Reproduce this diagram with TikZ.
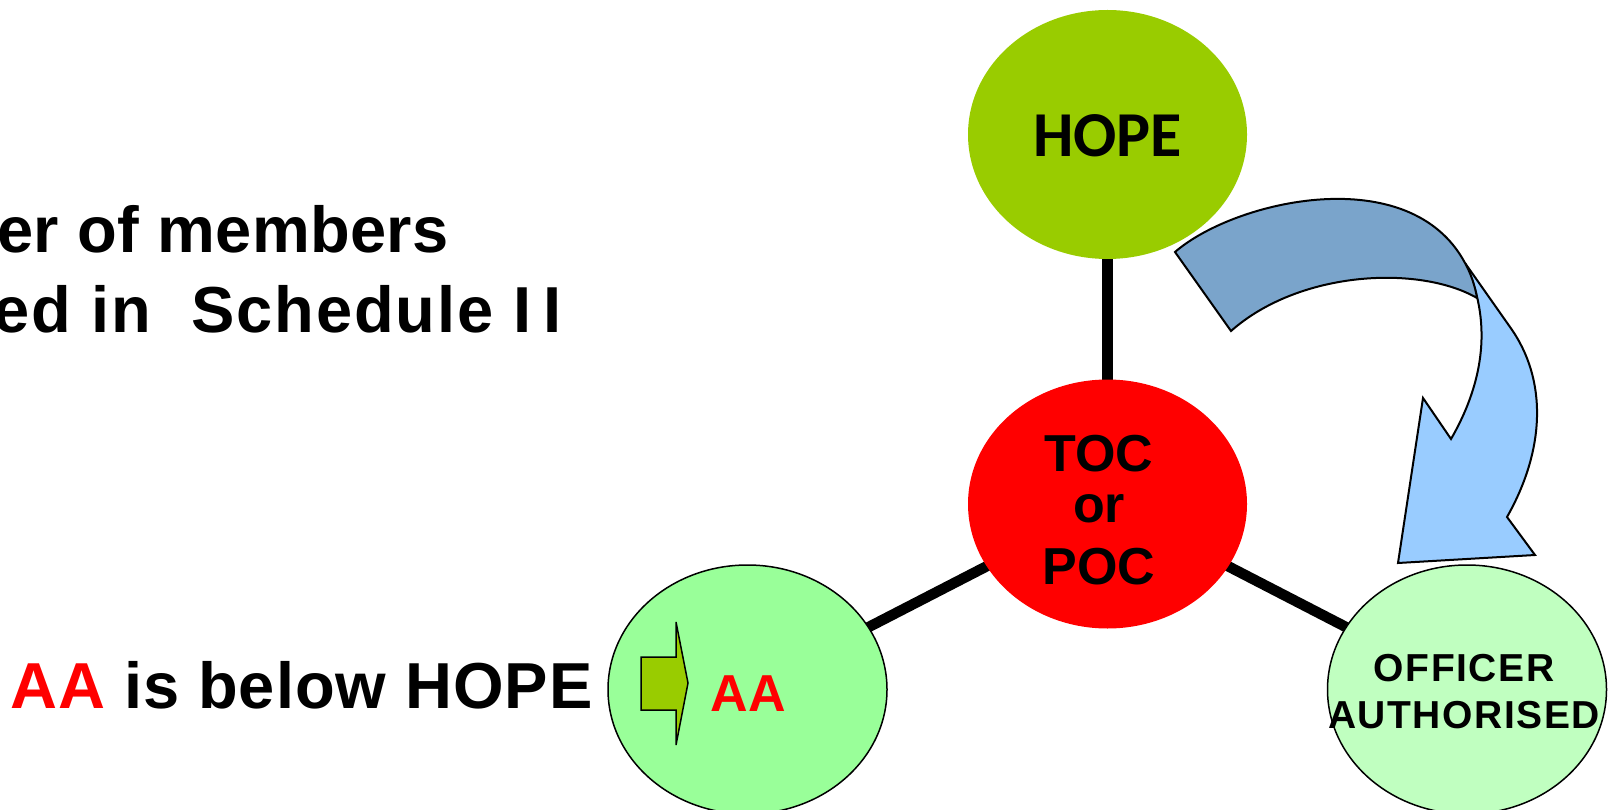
\documentclass[tikz,border=0pt]{standalone}
\usepackage{fontspec}
\setmainfont{Liberation Sans}
\newfontfamily\calfont{Carlito}
\usetikzlibrary{shapes.geometric,backgrounds}
\definecolor{hopegreen}{HTML}{99CC00}
\definecolor{tocred}{HTML}{FF0000}
\definecolor{aagreen}{HTML}{99FF99}
\definecolor{offgreen}{HTML}{C0FFC0}
\definecolor{arrowdark}{HTML}{7AA4CB}
\definecolor{arrowlight}{HTML}{99CCFF}
\begin{document}
\begin{tikzpicture}[x=1pt,y=-1pt,
  bubble/.style={ellipse, inner sep=0pt, minimum width=279pt, minimum height=249pt},
  conn/.style={line width=10.5pt, black},
  bigtext/.style={inner sep=0pt, font=\bfseries\fontsize{65}{78}\selectfont\addfontfeature{LetterSpace=#1}},
  arrowpart/.style={draw=black, line width=2pt, line join=miter},
  smallarrow/.style={draw=black, line width=1.5pt, fill=hopegreen, line join=miter}]
\useasboundingbox (0,0) rectangle (1614,810);

% ellipses
\node[bubble, fill=hopegreen] (hope) at (1107.5,134.5) {};
\node[bubble, fill=tocred] (toc) at (1107.5,504) {};
\node[bubble, fill=aagreen, draw=black, line width=1.5pt] (aa) at (747.5,689.5) {};
\node[bubble, fill=offgreen, draw=black, line width=1.5pt] (off) at (1467,689.5) {};

% connectors behind
\begin{pgfonlayer}{background}
\draw[conn] (hope.center) -- (toc.center);
\draw[conn] (toc.center) -- (aa.center);
\draw[conn] (toc.center) -- (off.center);
\end{pgfonlayer}

% curved arrow: light (front) part
\draw[arrowpart, fill=arrowlight]
  (1465,263) -- (1510,327) .. controls (1548,380) and (1545,450) .. (1507,517)
  -- (1535,555) -- (1398,563) -- (1423,398) -- (1451,439)
  .. controls (1485,380) and (1492,320) .. (1465,263) -- cycle;
% curved arrow: dark (back) part
\draw[arrowpart, fill=arrowdark]
  (1175,252) .. controls (1235,200) and (1410,160) .. (1465,263)
  .. controls (1470,272) and (1475,285) .. (1477,298)
  .. controls (1420,265) and (1300,270) .. (1231,331) -- cycle;

% small block arrow inside AA
\draw[smallarrow] (641,657) -- (676,657) -- (676,622) -- (688,683) -- (676,745) -- (676,710) -- (641,710) -- cycle;

% texts in bubbles
\node[inner sep=0pt, anchor=base, font=\calfont\bfseries\fontsize{64}{70}\selectfont] (hopet) at (1107.5,157) {HOPE};
\node[inner sep=0pt, anchor=base, align=center, font=\bfseries\fontsize{52}{56.5}\selectfont] (toct) at (1099,584) {TOC\\[-5.5pt]or\\[5.5pt]POC};
\node[inner sep=0pt, anchor=base, text=tocred, font=\bfseries\fontsize{52}{60}\selectfont] (aat) at (748,711) {AA};
\node[inner sep=0pt, anchor=base, align=center, font=\bfseries\fontsize{39}{47}\selectfont\addfontfeature{LetterSpace=4}] (offt) at (1464,728) {OFFICER\\AUTHORISED};

% left texts
\node[bigtext=0.5, anchor=base east] (l1) at (449,253) {er of members};
\node[bigtext=3, anchor=base east] (l2) at (562,332) {ed in\ \ Schedule I\hspace{12pt}I};
\node[bigtext=1.5, anchor=base west] (l3) at (10,708) {\textcolor{tocred}{AA} is below HOPE};
\end{tikzpicture}
\end{document}
